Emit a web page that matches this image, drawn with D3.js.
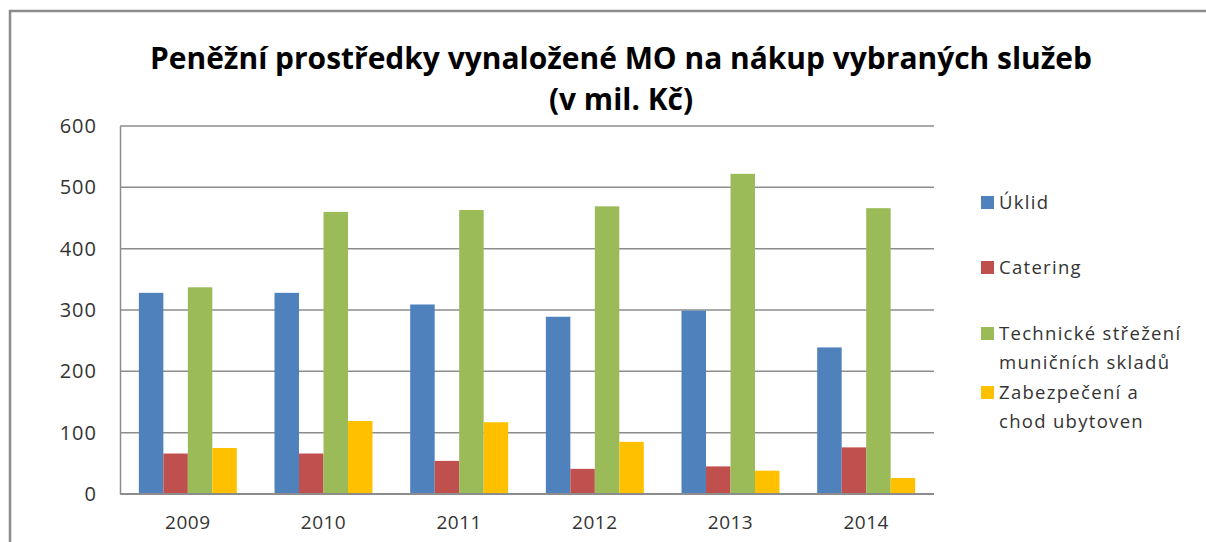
<html>
  <head>
    <script src='https://d3js.org/d3.v7.min.js'></script>
    <style>
      body { margin: 0; background: #fff; }
      text { font-family: 'Open Sans', sans-serif; fill: #333; }
    </style>
  </head>
  <body>
    <svg width=1206 height=542></svg>
    <script>
      // values in mil. Kč
      const YEARS = ['2009', '2010', '2011', '2012', '2013', '2014'];
      const SERIES = ['Úklid', 'Catering', 'Technické střežení muničních skladů', 'Zabezpečení a chod ubytoven'];
      const COLORS = ['#4f81bd', '#c0504d', '#9bbb59', '#ffc000'];

      const UKLID = [328, 328, 309, 289, 299, 239];
      const CATERING = [66, 66, 54, 41, 45, 76];
      const STREZENI = [337, 460, 463, 469, 522, 466];
      const UBYTOVNY = [75, 119, 117, 85, 38, 26];
      const Y_TICKS = [0, 100, 200, 300, 400, 500, 600];

      const values = [UKLID, CATERING, STREZENI, UBYTOVNY];

      const svg = d3.select('svg');

      // outer frame (runs off the right and bottom edge)
      svg.append('path')
        .attr('d', 'M10,560 L10,11 L1220,11')
        .attr('fill', 'none').attr('stroke', '#8c8c8c').attr('stroke-width', 2.5);

      // title
      const title = svg.append('text').attr('text-anchor', 'middle')
        .style('font-weight', 'bold').style('font-size', '30px').style('fill', '#000');
      title.append('tspan').attr('x', 621).attr('y', 69)
        .attr('textLength', 942).attr('lengthAdjust', 'spacingAndGlyphs')
        .text('Peněžní prostředky vynaložené MO na nákup vybraných služeb');
      title.append('tspan').attr('x', 621).attr('y', 110)
        .attr('textLength', 144).attr('lengthAdjust', 'spacingAndGlyphs')
        .text('(v mil. Kč)');

      const plotLeft = 120, plotRight = 934, plotTop = 126, plotBottom = 494;

      const x = d3.scaleBand().domain(YEARS).range([plotLeft, plotRight])
        .paddingInner(0.278).paddingOuter(0.139);
      const xs = d3.scaleBand().domain(d3.range(SERIES.length)).range([0, x.bandwidth()]);
      const y = d3.scaleLinear().domain([0, 600]).range([plotBottom, plotTop]);

      // gridlines
      svg.append('g').selectAll('line').data(Y_TICKS).enter().append('line')
        .attr('x1', plotLeft).attr('x2', plotRight)
        .attr('y1', d => y(d)).attr('y2', d => y(d))
        .attr('stroke', '#8c8c8c').attr('stroke-width', 1.5);

      // y axis
      const yAxis = svg.append('g').attr('transform', 'translate(' + plotLeft + ',0)')
        .call(d3.axisLeft(y).tickValues(Y_TICKS).tickSize(0).tickPadding(23));
      yAxis.select('.domain').attr('stroke', '#8c8c8c').attr('stroke-width', 1.5);
      yAxis.selectAll('text').style('font-size', '20px').style('fill', '#333')
        .style('letter-spacing', '1px')
        .style('font-family', "'Open Sans', sans-serif");

      // bars
      const groups = svg.append('g').selectAll('g').data(YEARS).enter().append('g')
        .attr('transform', d => 'translate(' + x(d) + ',0)');
      groups.selectAll('rect').data((d, i) => values.map((s, j) => ({ s: j, v: s[i] })))
        .enter().append('rect')
        .attr('x', d => xs(d.s)).attr('width', xs.bandwidth())
        .attr('y', d => y(d.v)).attr('height', d => y(0) - y(d.v))
        .attr('fill', d => COLORS[d.s]);

      // baseline over bars
      svg.append('line').attr('x1', plotLeft).attr('x2', plotRight)
        .attr('y1', y(0)).attr('y2', y(0))
        .attr('stroke', '#8c8c8c').attr('stroke-width', 2);

      // x axis labels
      const xAxis = svg.append('g').attr('transform', 'translate(0,' + plotBottom + ')')
        .call(d3.axisBottom(x).tickSize(0).tickPadding(22));
      xAxis.select('.domain').remove();
      xAxis.selectAll('text').style('font-size', '19px').style('fill', '#333')
        .style('letter-spacing', '0.5px')
        .style('font-family', "'Open Sans', sans-serif");

      // legend
      const LEGEND_LINES = [['Úklid'], ['Catering'], ['Technické střežení', 'muničních skladů'], ['Zabezpečení a', 'chod ubytoven']];
      const LEGEND_Y = [202, 267, 333, 392];
      const legend = svg.append('g');
      LEGEND_LINES.forEach((lines, i) => {
        legend.append('rect').attr('x', 981).attr('y', LEGEND_Y[i] - 6)
          .attr('width', 13).attr('height', 13).attr('fill', COLORS[i]);
        const t = legend.append('text').style('font-size', '18.5px').style('fill', '#333')
          .style('letter-spacing', '1.3px');
        lines.forEach((l, k) => {
          t.append('tspan').attr('x', 999).attr('y', LEGEND_Y[i] + 6.5 + k * 29).text(l);
        });
      });
    </script>
  </body>
</html>
